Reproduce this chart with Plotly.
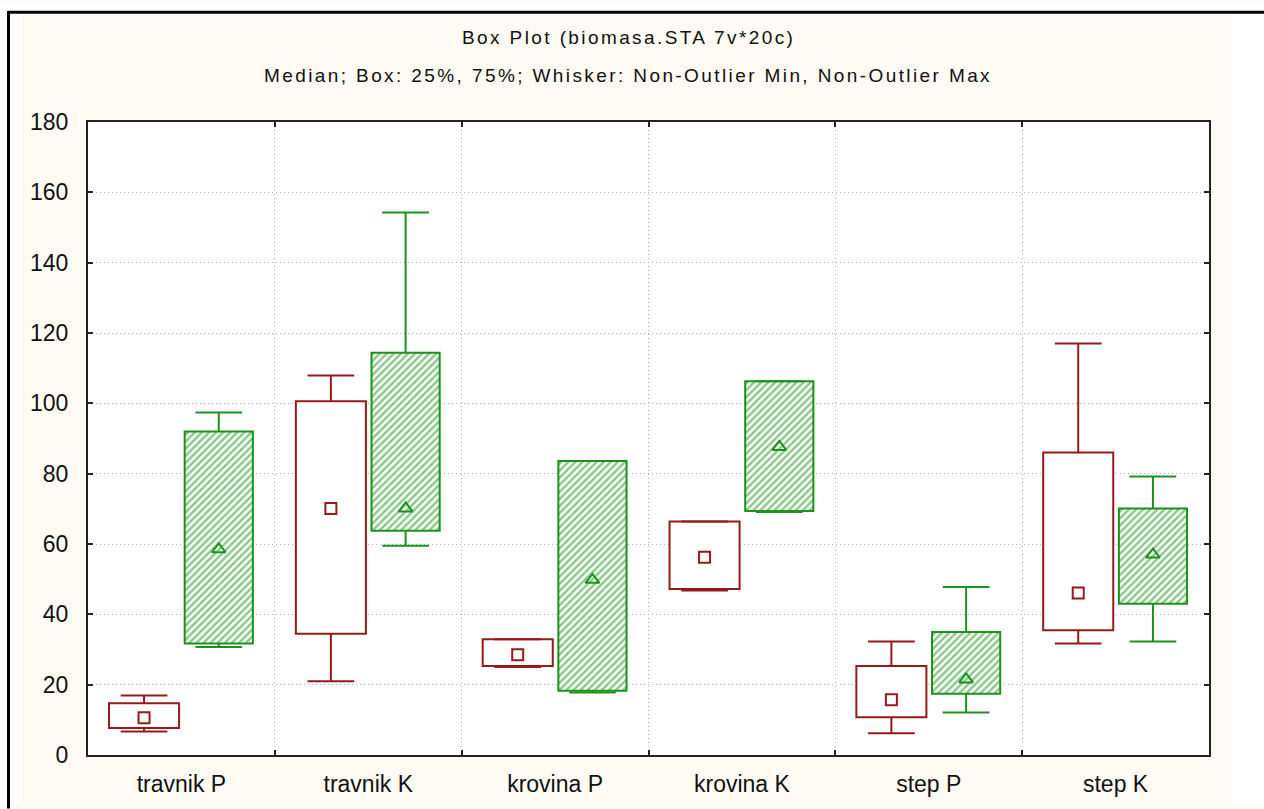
import plotly.graph_objects as go

# Groups and the two box series (P = red, K = green hatched)
categories = ["travnik P", "travnik K", "krovina P", "krovina K", "step P", "step K"]

red_min    = [6.7, 21.0, 25.0, 46.8, 6.2, 31.7]
red_q1     = [7.7, 34.5, 25.3, 47.2, 10.7, 35.5]
red_median = [10.6, 70.1, 28.5, 56.2, 15.7, 46.1]
red_q3     = [14.7, 100.6, 32.9, 66.4, 25.3, 86.0]
red_max    = [16.9, 107.9, 32.9, 66.4, 32.3, 117.0]

green_min    = [30.7, 59.5, 17.8, 69.1, 12.1, 32.3]
green_q1     = [31.7, 63.8, 18.3, 69.4, 17.4, 43.0]
green_median = [58.5, 70.1, 49.8, 87.6, 21.5, 57.0]
green_q3     = [92.0, 114.4, 83.6, 106.3, 35.0, 70.1]
green_max    = [97.4, 154.3, 83.6, 106.3, 47.8, 79.2]

y_ticks = [0, 20, 40, 60, 80, 100, 120, 140, 160, 180]

RED = "#961a1a"
GREEN = "#1c921c"
W, H = 1264, 809
L, R, T, B = 88, 55, 122, 49
PW, PH = W - L - R, H - T - B


def px_x(px):
    return (px - L) / PW


def px_y(py):
    return (H - B - py) / PH


def whiskers(xs, lo, q1, q3, hi, cap=0.125):
    x, y = [], []
    for xc, a, b, c, d in zip(xs, lo, q1, q3, hi):
        x += [xc, xc, None, xc - cap, xc + cap, None]
        y += [c, d, None, d, d, None]
        x += [xc, xc, None, xc - cap, xc + cap, None]
        y += [b, a, None, a, a, None]
    return x, y


n = len(categories)
x_red = [i - 0.2 for i in range(n)]
x_green = [i + 0.2 for i in range(n)]

fig = go.Figure()

fig.add_trace(go.Bar(
    x=x_red, y=[b - a for a, b in zip(red_q1, red_q3)], base=red_q1,
    width=0.375,
    marker=dict(color="white", line=dict(color=RED, width=2)),
    hoverinfo="skip",
))
fig.add_trace(go.Bar(
    x=x_green, y=[b - a for a, b in zip(green_q1, green_q3)], base=green_q1,
    width=0.365,
    marker=dict(color="white", line=dict(color=GREEN, width=2),
                pattern=dict(shape="/", fgcolor=GREEN, bgcolor="white",
                             size=5, solidity=0.5, fillmode="overlay")),
    hoverinfo="skip",
))

wx, wy = whiskers(x_red, red_min, red_q1, red_q3, red_max)
fig.add_trace(go.Scatter(x=wx, y=wy, mode="lines",
                         line=dict(color=RED, width=2), hoverinfo="skip"))
wx, wy = whiskers(x_green, green_min, green_q1, green_q3, green_max)
fig.add_trace(go.Scatter(x=wx, y=wy, mode="lines",
                         line=dict(color=GREEN, width=2), hoverinfo="skip"))

fig.add_trace(go.Scatter(x=x_red, y=red_median, mode="markers",
                         marker=dict(symbol="square-open", size=11, color=RED,
                                     line=dict(width=2, color=RED)),
                         hoverinfo="skip"))
fig.add_trace(go.Scatter(x=x_green, y=green_median, mode="markers",
                         marker=dict(symbol="triangle-up-open", size=12, color=GREEN,
                                     line=dict(width=2, color=GREEN)),
                         hoverinfo="skip"))

FONT = "Liberation Sans, Arial, sans-serif"
xr = [-0.5, n - 0.5]
GRID = "#b4b4b4"
DOTS = "1px,3px"

fig.update_layout(
    width=W, height=H,
    margin=dict(l=L, r=R, t=T, b=B, pad=0),
    paper_bgcolor="#fefaf4",
    plot_bgcolor="white",
    showlegend=False,
    barmode="overlay",
    font=dict(family=FONT, color="#111111", size=22),
    xaxis=dict(
        range=xr, tickmode="array", tickvals=[i + 0.5 for i in range(n - 1)],
        ticktext=[""] * (n - 1), showgrid=True, gridcolor=GRID,
        griddash=DOTS, gridwidth=1, zeroline=False,
        showline=True, linecolor="#222222", linewidth=2, mirror="ticks",
        ticks="inside", ticklen=5, tickwidth=2, tickcolor="#222222",
    ),
    xaxis2=dict(
        range=xr, overlaying="x", side="bottom", anchor="y",
        tickmode="array", tickvals=list(range(n)), ticktext=categories,
        showgrid=False, zeroline=False, showline=False, ticks="",
        ticklabelstandoff=13, tickfont=dict(size=23, family=FONT, color="#111111"),
    ),
    yaxis=dict(
        range=[0, 180], tickmode="array", tickvals=y_ticks,
        showgrid=True, gridcolor=GRID, griddash=DOTS, gridwidth=1,
        zeroline=False, showline=True, linecolor="#222222", linewidth=2,
        mirror="ticks", ticks="inside", ticklen=5, tickwidth=2,
        tickcolor="#222222", ticklabelstandoff=13,
        tickfont=dict(size=23, family=FONT, color="#111111"),
    ),
)

# keep the overlay x axis registered by giving it an empty trace
fig.add_trace(go.Scatter(x=[None], y=[None], xaxis="x2", yaxis="y",
                         showlegend=False, hoverinfo="skip"))

# page surround: white strips and black border lines outside the cream panel
shapes = [
    dict(type="rect", xref="paper", yref="paper", layer="above",
         x0=px_x(0), x1=px_x(22), y0=px_y(H), y1=px_y(0),
         fillcolor="white", line=dict(width=0)),
    dict(type="rect", xref="paper", yref="paper", layer="above",
         x0=px_x(0), x1=px_x(W), y0=px_y(12), y1=px_y(0),
         fillcolor="white", line=dict(width=0)),
    dict(type="rect", xref="paper", yref="paper", layer="above",
         x0=px_x(1232), x1=px_x(W), y0=px_y(H), y1=px_y(0),
         fillcolor="white", line=dict(width=0)),
    dict(type="line", xref="paper", yref="paper", layer="above",
         x0=px_x(8), x1=px_x(W + 5), y0=px_y(11.5), y1=px_y(11.5),
         line=dict(color="black", width=3)),
    dict(type="line", xref="paper", yref="paper", layer="above",
         x0=px_x(8.5), x1=px_x(8.5), y0=px_y(10), y1=px_y(H + 5),
         line=dict(color="black", width=3)),
]
fig.update_layout(shapes=shapes)

title = "Box Plot (biomasa.STA 7v*20c)"
subtitle = "Median; Box: 25%, 75%; Whisker: Non-Outlier Min, Non-Outlier Max"
for text, py in [(title, 37), (subtitle, 75)]:
    fig.add_annotation(
        text=f'<span style="letter-spacing:2.4px">{text}</span>',
        xref="paper", yref="paper", x=px_x(628), y=px_y(py),
        xanchor="center", yanchor="middle", showarrow=False,
        font=dict(size=19, family=FONT, color="#111111"),
    )

fig.write_html("out.html", config={"displayModeBar": False})
